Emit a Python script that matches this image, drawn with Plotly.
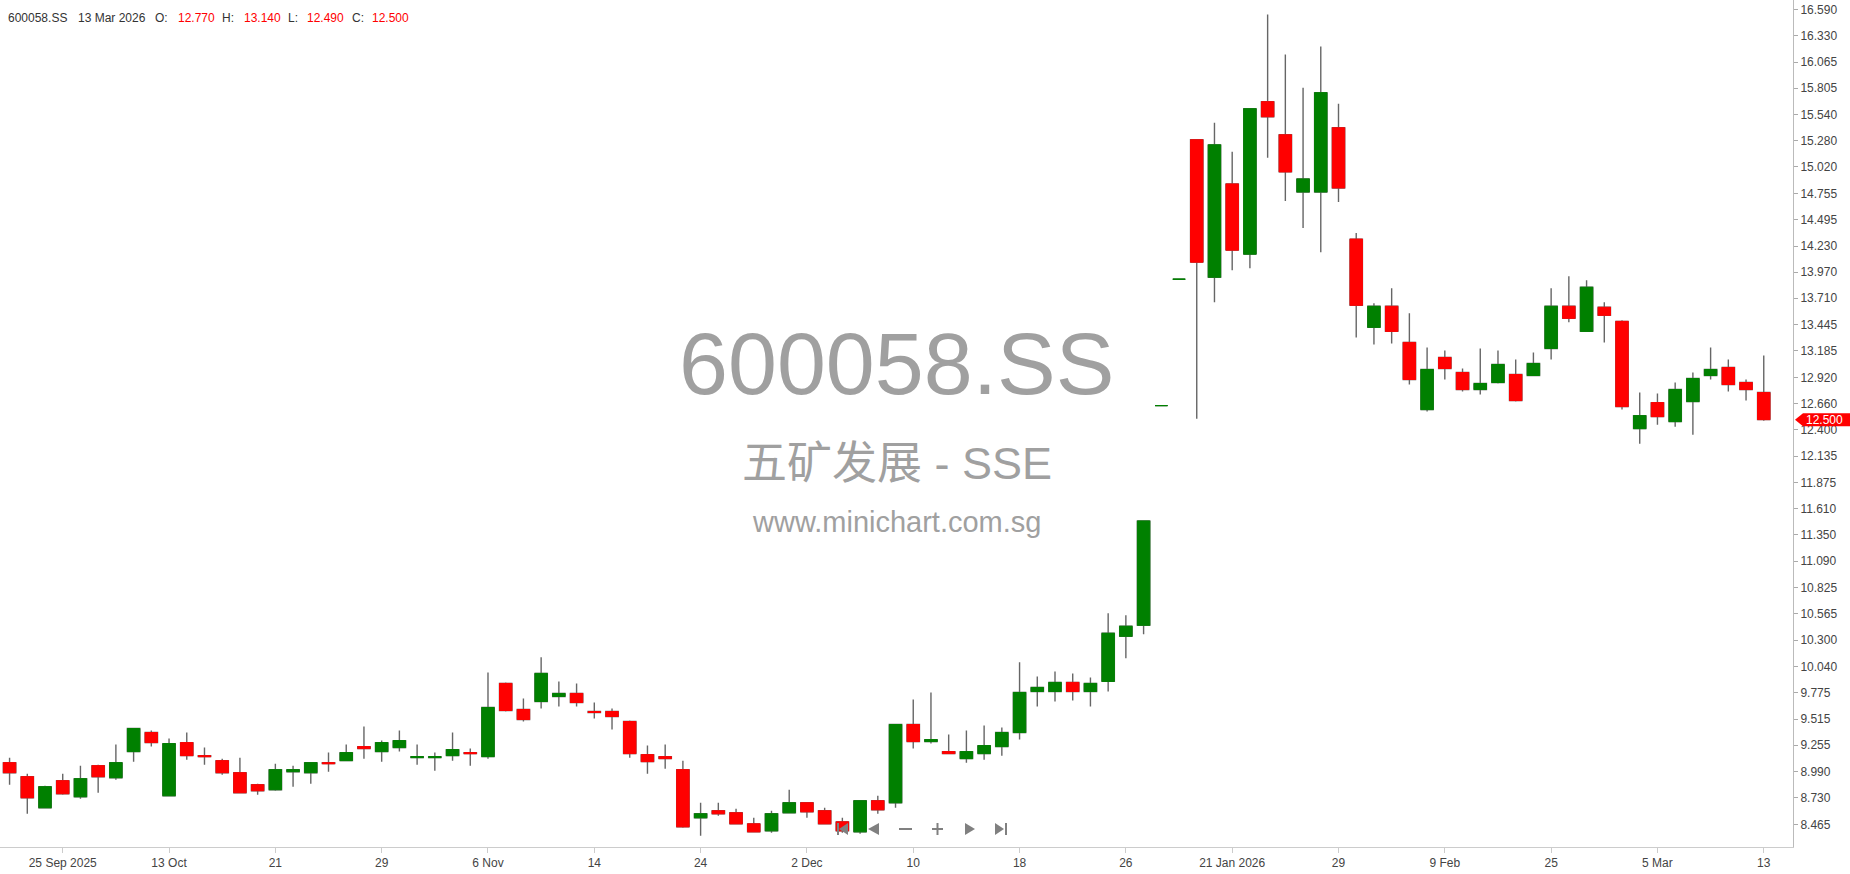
import plotly.graph_objects as go

# ---------------- data ----------------
dates = [
    "2025-09-22", "2025-09-23", "2025-09-24", "2025-09-25", "2025-09-26", "2025-09-29", "2025-09-30",
    "2025-10-09", "2025-10-10", "2025-10-13", "2025-10-14", "2025-10-15", "2025-10-16", "2025-10-17",
    "2025-10-20", "2025-10-21", "2025-10-22", "2025-10-23", "2025-10-24", "2025-10-27", "2025-10-28",
    "2025-10-29", "2025-10-30", "2025-10-31", "2025-11-03", "2025-11-04", "2025-11-05", "2025-11-06",
    "2025-11-07", "2025-11-10", "2025-11-11", "2025-11-12", "2025-11-13", "2025-11-14", "2025-11-17",
    "2025-11-18", "2025-11-19", "2025-11-20", "2025-11-21", "2025-11-24", "2025-11-25", "2025-11-26",
    "2025-11-27", "2025-11-28", "2025-12-01", "2025-12-02", "2025-12-03", "2025-12-04", "2025-12-05",
    "2025-12-08", "2025-12-09", "2025-12-10", "2025-12-11", "2025-12-12", "2025-12-15", "2025-12-16",
    "2025-12-17", "2025-12-18", "2025-12-19", "2025-12-22", "2025-12-23", "2025-12-24", "2025-12-25",
    "2025-12-26", "2025-12-29", "2025-12-30", "2025-12-31", "2026-01-19", "2026-01-20", "2026-01-21",
    "2026-01-22", "2026-01-23", "2026-01-26", "2026-01-27", "2026-01-28", "2026-01-29", "2026-01-30",
    "2026-02-02", "2026-02-03", "2026-02-04", "2026-02-05", "2026-02-09", "2026-02-10", "2026-02-11",
    "2026-02-12", "2026-02-13", "2026-02-24", "2026-02-25", "2026-02-26", "2026-02-27", "2026-03-02",
    "2026-03-03", "2026-03-04", "2026-03-05", "2026-03-06", "2026-03-09", "2026-03-10", "2026-03-11",
    "2026-03-12", "2026-03-13",
]

opens = [
    9.08, 8.94, 8.63, 8.90, 8.74, 9.05, 8.93, 9.19, 9.38, 8.75,
    9.28, 9.15, 9.10, 8.98, 8.86, 8.81, 8.99, 8.98, 9.08, 9.10,
    9.24, 9.19, 9.23, 9.13, 9.13, 9.15, 9.18, 9.14, 9.87, 9.61,
    9.69, 9.74, 9.77, 9.59, 9.59, 9.49, 9.16, 9.14, 9.01, 8.53,
    8.60, 8.58, 8.47, 8.40, 8.58, 8.68, 8.60, 8.49, 8.39, 8.70,
    8.68, 9.46, 9.29, 9.19, 9.12, 9.17, 9.24, 9.38, 9.79, 9.79,
    9.88, 9.79, 9.89, 10.34, 10.45, 12.64, 13.90, 15.29, 13.92, 14.85,
    14.15, 15.67, 15.34, 14.77, 14.77, 15.41, 14.30, 13.42, 13.63, 13.27,
    12.60, 13.12, 12.97, 12.80, 12.87, 12.95, 12.94, 13.21, 13.63, 13.38,
    13.62, 13.48, 12.41, 12.67, 12.48, 12.68, 12.94, 13.02, 12.87, 12.77,
]
highs = [
    9.13, 8.97, 8.85, 8.97, 9.05, 9.06, 9.26, 9.42, 9.40, 9.32,
    9.38, 9.23, 9.12, 9.13, 8.87, 9.07, 9.05, 9.08, 9.18, 9.26,
    9.44, 9.30, 9.40, 9.26, 9.18, 9.38, 9.22, 9.98, 9.88, 9.72,
    10.13, 9.89, 9.87, 9.68, 9.62, 9.50, 9.25, 9.26, 9.10, 8.68,
    8.68, 8.62, 8.53, 8.60, 8.81, 8.68, 8.63, 8.53, 8.70, 8.75,
    9.46, 9.71, 9.78, 9.36, 9.40, 9.45, 9.43, 10.08, 9.94, 9.99,
    9.97, 9.93, 10.57, 10.55, 11.49, 12.64, 13.90, 15.29, 15.46, 15.17,
    15.60, 16.54, 16.14, 15.81, 16.22, 15.65, 14.36, 13.66, 13.81, 13.56,
    13.22, 13.19, 13.01, 13.21, 13.19, 13.10, 13.17, 13.81, 13.93, 13.89,
    13.67, 13.49, 12.77, 12.76, 12.87, 12.97, 13.22, 13.10, 12.90, 13.14,
]
lows = [
    8.86, 8.57, 8.63, 8.76, 8.72, 8.78, 8.91, 9.09, 9.24, 8.75,
    9.11, 9.06, 8.96, 8.78, 8.76, 8.80, 8.84, 8.87, 8.99, 9.10,
    9.12, 9.09, 9.19, 9.06, 9.00, 9.10, 9.05, 9.12, 9.59, 9.49,
    9.62, 9.64, 9.64, 9.52, 9.41, 9.13, 8.97, 9.02, 8.43, 8.35,
    8.55, 8.47, 8.39, 8.38, 8.58, 8.53, 8.47, 8.38, 8.37, 8.57,
    8.63, 9.22, 9.27, 9.17, 9.08, 9.11, 9.15, 9.31, 9.64, 9.69,
    9.70, 9.64, 9.79, 10.12, 10.36, 12.64, 13.90, 12.51, 13.67, 13.99,
    14.01, 15.11, 14.68, 14.41, 14.17, 14.67, 13.32, 13.25, 13.26, 12.85,
    12.58, 12.90, 12.78, 12.75, 12.86, 12.68, 12.94, 13.10, 13.47, 13.38,
    13.27, 12.60, 12.26, 12.45, 12.43, 12.35, 12.90, 12.78, 12.69, 12.49,
]
closes = [
    8.98, 8.73, 8.84, 8.77, 8.92, 8.94, 9.08, 9.42, 9.28, 9.27,
    9.15, 9.14, 8.98, 8.78, 8.80, 9.01, 9.01, 9.08, 9.07, 9.18,
    9.22, 9.28, 9.30, 9.14, 9.14, 9.21, 9.17, 9.63, 9.60, 9.51,
    9.97, 9.77, 9.68, 9.58, 9.54, 9.17, 9.09, 9.12, 8.44, 8.57,
    8.57, 8.47, 8.39, 8.57, 8.68, 8.59, 8.47, 8.40, 8.70, 8.61,
    9.46, 9.29, 9.31, 9.17, 9.19, 9.25, 9.38, 9.78, 9.83, 9.88,
    9.79, 9.87, 10.37, 10.44, 11.49, 12.64, 13.90, 14.07, 15.24, 14.19,
    15.60, 15.52, 14.97, 14.90, 15.76, 14.81, 13.64, 13.63, 13.38, 12.90,
    13.00, 13.01, 12.80, 12.86, 13.05, 12.69, 13.06, 13.63, 13.51, 13.82,
    13.54, 12.63, 12.54, 12.53, 12.80, 12.91, 13.00, 12.85, 12.80, 12.50,
]

tick_dates = [
    "2025-09-25", "2025-10-13", "2025-10-21", "2025-10-29", "2025-11-06", "2025-11-14",
    "2025-11-24", "2025-12-02", "2025-12-10", "2025-12-18", "2025-12-26", "2026-01-21",
    "2026-01-29", "2026-02-09", "2026-02-25", "2026-03-05", "2026-03-13",
]
tick_labels = [
    "25 Sep 2025", "13 Oct", "21", "29", "6 Nov", "14", "24", "2 Dec", "10", "18", "26",
    "21 Jan 2026", "29", "9 Feb", "25", "5 Mar", "13",
]
y_ticks = [
    16.590, 16.330, 16.065, 15.805, 15.540, 15.280, 15.020, 14.755, 14.495, 14.230, 13.970,
    13.710, 13.445, 13.185, 12.920, 12.660, 12.400, 12.135, 11.875, 11.610, 11.350, 11.090,
    10.825, 10.565, 10.300, 10.040, 9.775, 9.515, 9.255, 8.990, 8.730, 8.465,
]

symbol = "600058.SS"
name_line = "五矿发展 - SSE"
site = "www.minichart.com.sg"
header_date = "13 Mar 2026"

# ---------------- style ----------------
W, H = 1850, 874
ML, MR, MT, MB = 0, 57, 0, 27
PW, PH = W - ML - MR, H - MT - MB
Y_RANGE = [8.239, 16.684]
X_RANGE = [-0.54, 100.65]
UP, DOWN, WICK = "#008000", "#ff0000", "#666666"
FONT = "Liberation Sans, Arial, Noto Sans CJK SC, sans-serif"
WM = "#a0a0a0"


def px_x(p):
    return (p - ML) / PW


def px_y(p):
    return 1 - (p - MT) / PH


body_hi = [max(o, c) for o, c in zip(opens, closes)]
body_lo = [min(o, c) for o, c in zip(opens, closes)]

fig = go.Figure()
# wicks (grey)
fig.add_trace(go.Candlestick(
    x=dates, open=opens, high=highs, low=lows, close=closes,
    increasing=dict(line=dict(color=WICK, width=1.4), fillcolor=WICK),
    decreasing=dict(line=dict(color=WICK, width=1.4), fillcolor=WICK),
    whiskerwidth=0, showlegend=False, hoverinfo="skip",
))
# bodies (colored)
fig.add_trace(go.Candlestick(
    x=dates, open=opens, high=body_hi, low=body_lo, close=closes,
    increasing=dict(line=dict(color=UP, width=1), fillcolor=UP),
    decreasing=dict(line=dict(color=DOWN, width=1), fillcolor=DOWN),
    whiskerwidth=0, showlegend=False,
))

annotations = []
# watermark
annotations.append(dict(text=symbol, x=0.5, y=px_y(363), xref="paper", yref="paper",
                        showarrow=False, xanchor="center", yanchor="middle",
                        font=dict(family=FONT, size=88, color=WM)))
annotations.append(dict(text=name_line, x=0.5, y=px_y(463), xref="paper", yref="paper",
                        showarrow=False, xanchor="center", yanchor="middle",
                        font=dict(family=FONT, size=45, color=WM)))
annotations.append(dict(text=site, x=0.5, y=px_y(522), xref="paper", yref="paper",
                        showarrow=False, xanchor="center", yanchor="middle",
                        font=dict(family=FONT, size=29, color=WM)))

# header
hdr = [
    (symbol, 7, "#333333"), (header_date, 77, "#333333"),
    ("O:", 154, "#333333"), (f"{opens[-1]:.3f}", 177, "#ff0000"),
    ("H:", 221, "#333333"), (f"{highs[-1]:.3f}", 243, "#ff0000"),
    ("L:", 287, "#333333"), (f"{lows[-1]:.3f}", 306, "#ff0000"),
    ("C:", 351, "#333333"), (f"{closes[-1]:.3f}", 371, "#ff0000"),
]
for t, xp, col in hdr:
    annotations.append(dict(text=t, x=px_x(xp), y=px_y(18), xref="paper", yref="paper",
                            showarrow=False, xanchor="left", yanchor="middle", borderpad=0,
                            font=dict(family=FONT, size=12, color=col)))

# last price tag text
annotations.append(dict(text=f"{closes[-1]:.3f}", x=px_x(1825), y=closes[-1], xref="paper", yref="y",
                        showarrow=False, xanchor="center", yanchor="middle", borderpad=0,
                        font=dict(family=FONT, size=12, color="white")))

shapes = []
# price tag background with pointed left edge
upp = (Y_RANGE[1] - Y_RANGE[0]) / PH
yc = closes[-1]
top, bot = yc + 6.5 * upp, yc - 6.5 * upp
shapes.append(dict(type="path", xref="paper", yref="y", layer="above",
                   path=(f"M {px_x(1795)} {yc} L {px_x(1803)} {top} L {px_x(1850)} {top} "
                         f"L {px_x(1850)} {bot} L {px_x(1803)} {bot} Z"),
                   fillcolor=DOWN, line=dict(width=0)))

# navigation icons (bottom centre)
NAV = "#808080"
cy, hh = 829, 6


def tri(x_tip, x_base):
    return (f"M {px_x(x_tip)} {px_y(cy)} L {px_x(x_base)} {px_y(cy - hh)} "
            f"L {px_x(x_base)} {px_y(cy + hh)} Z")


for p in [tri(839, 848), tri(868, 879), tri(975, 965), tri(1004, 995)]:
    shapes.append(dict(type="path", xref="paper", yref="paper", path=p,
                       fillcolor=NAV, line=dict(width=0), layer="above"))
for x0, x1, y0, y1 in [(837, 839, cy - hh, cy + hh), (1005, 1007, cy - hh, cy + hh),
                       (899, 912, cy - 1, cy + 1), (932, 943, cy - 1, cy + 1),
                       (936.5, 938.5, cy - 6, cy + 6)]:
    shapes.append(dict(type="rect", xref="paper", yref="paper",
                       x0=px_x(x0), x1=px_x(x1), y0=px_y(y1), y1=px_y(y0),
                       fillcolor=NAV, line=dict(width=0), layer="above"))

fig.update_layout(
    width=W, height=H,
    margin=dict(l=ML, r=MR, t=MT, b=MB, pad=0),
    paper_bgcolor="white", plot_bgcolor="white",
    showlegend=False,
    boxgap=0.3, boxgroupgap=0,
    font=dict(family=FONT, size=12, color="#444444"),
    annotations=annotations,
    shapes=shapes,
    hovermode=False,
    xaxis=dict(
        type="category", range=X_RANGE, rangeslider=dict(visible=False),
        tickmode="array", tickvals=tick_dates, ticktext=tick_labels,
        showgrid=False, zeroline=False, showline=True, linecolor="#cccccc", linewidth=1,
        ticks="outside", ticklen=5, tickcolor="#cccccc", tickwidth=1,
        tickfont=dict(family=FONT, size=12, color="#444444"),
    ),
    yaxis=dict(
        side="right", range=Y_RANGE, tickmode="array", tickvals=y_ticks, tickformat=".3f",
        showgrid=False, zeroline=False, showline=True, linecolor="#bbbbbb", linewidth=1,
        ticks="outside", ticklen=4, tickcolor="#aaaaaa", tickwidth=1,
        tickfont=dict(family=FONT, size=12, color="#444444"),
    ),
)

fig.write_html("out.html", config={"displayModeBar": False},
               post_script="document.body.style.margin='0';document.body.style.overflow='hidden';")
